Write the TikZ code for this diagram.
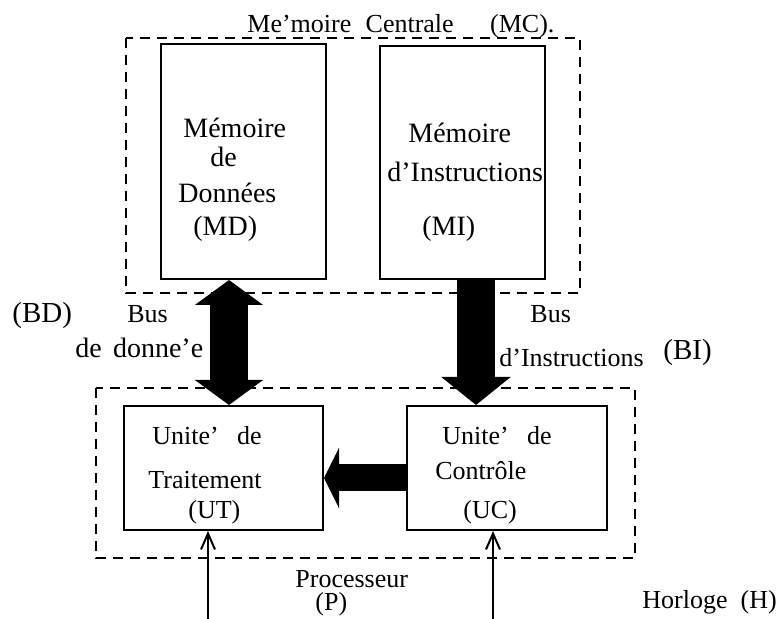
\documentclass[tikz,border=0pt]{standalone}
\usepackage{fontspec}
\setmainfont{Liberation Serif}
\usetikzlibrary{arrows.meta}

\tikzset{
	box/.style={draw, line width=1pt, inner sep=0pt},
	dashbox/.style={line width=1pt, dash pattern=on 5pt off 3.5pt},
	lbl/.style={anchor=base west, inner sep=0pt, font=\fontsize{13}{15}\selectfont},
	memlbl/.style={lbl, font=\fontsize{14}{16}\selectfont},
	biglbl/.style={lbl, font=\fontsize{14.5}{17}\selectfont},
	fatbus/.style={line width=19pt},
	thin/.style={line width=1pt, -{Straight Barb[length=8pt, width=7pt, line width=1pt]}}
}

\begin{document}
\begin{tikzpicture}[x=0.5pt, y=-0.5pt]
			%%%%% START %%%%%
			\useasboundingbox (0, 0) rectangle (781, 619);
			
			% memoire centrale
			\draw[dashbox] (126, 38) rectangle (580, 293);
			\node[lbl] (MCtxt) at (247, 33) {Me'moire\hspace{0.3em} Centrale\hspace{1.4em}(MC).};
			
			\node[box, minimum width=82.5pt, minimum height=117.5pt] (MD) at (243.5, 161.5) {};
			\node[box, minimum width=82.5pt, minimum height=116.5pt] (MI) at (462.5, 162.5) {};
			
			\node[memlbl] (MD1) at (183, 138) {Mémoire};
			\node[memlbl] (MD2) at (210, 167) {de};
			\node[memlbl] (MD3) at (178, 203) {Données};
			\node[memlbl] (MD4) at (193, 236) {(MD)};
			
			\node[memlbl] (MI1) at (408, 143) {Mémoire};
			\node[memlbl] (MI2) at (387, 182) {d'Instructions};
			\node[memlbl] (MI3) at (422, 236) {(MI)};
			
			% processeur
			\draw[dashbox] (96, 388) rectangle (635, 558);
			
			\node[box, minimum width=99.5pt, minimum height=62pt] (UT) at (223.5, 468) {};
			\node[box, minimum width=100pt, minimum height=62pt] (UC) at (507, 468) {};
			
			\node[lbl] (UT1) at (152, 445) {Unite'\hspace{0.7em}de};
			\node[lbl] (UT2) at (148, 488) {Traitement};
			\node[lbl] (UT3) at (188, 518) {(UT)};
			
			\node[lbl] (UC1) at (442, 445) {Unite'\hspace{0.7em}de};
			\node[lbl] (UC2) at (435, 480) {Contrôle};
			\node[lbl] (UC3) at (463, 518) {(UC)};
			
			\node[lbl] (Ptxt) at (295, 587) {Processeur};
			\node[lbl] (Ptxt2) at (315, 610) {(P)};
			
			% bus
			\coordinate (bd) at (229, 0);
			\coordinate (bi) at (476, 0);
			\coordinate (uc) at (0, 478);
			
			\draw[fatbus, {Triangle[width=33.5pt, length=12.5pt]}-{Triangle[width=33.5pt, length=12.5pt]}] (bd |- MD.south) -- (bd |- UT.north);
			\draw[fatbus, -{Triangle[width=34pt, length=14pt]}] (bi |- MI.south) -- (bi |- UC.north);
			\draw[line width=13.5pt, -{Triangle[width=30pt, length=7.5pt]}] (UC.west |- uc) -- (UT.east |- uc);
			
			\node[biglbl] (BD) at (12, 323) {(BD)};
			\node[lbl] (BD1) at (127, 323) {Bus};
			\node[memlbl] (BD2) at (75, 358) {de\hspace{0.4em}donne'e};
			
			\node[lbl] (BI1) at (530, 323) {Bus};
			\node[lbl] (BI2) at (499, 367) {d'Instructions};
			\node[biglbl] (BI) at (663, 360) {(BI)};
			
			% horloge
			\coordinate (h1) at (208, 619);
			\coordinate (h2) at (493, 619);
			\draw[thin] (h1) -- (h1 |- UT.south);
			\draw[thin] (h2) -- (h2 |- UC.south);
			\node[lbl] (H) at (642, 608) {Horloge\hspace{0.5em}(H)};
			
			%%%%% END %%%%%
		\end{tikzpicture}
\end{document}
